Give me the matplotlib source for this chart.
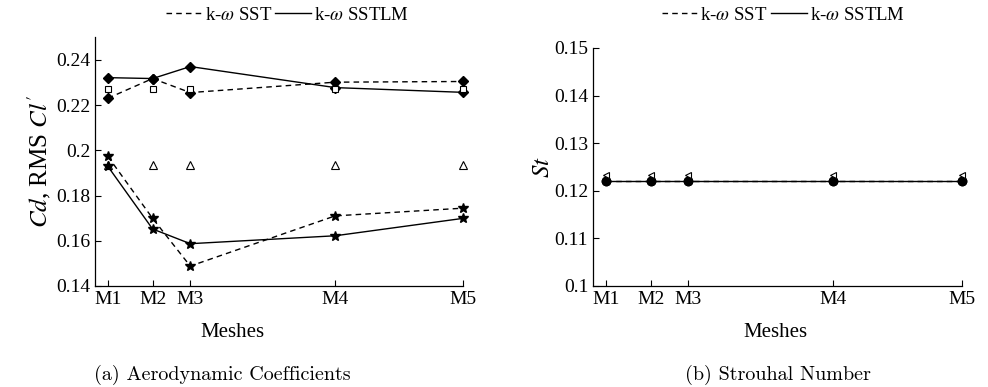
import matplotlib
matplotlib.use('Agg')
import matplotlib.pyplot as plt
from matplotlib.ticker import FuncFormatter
from matplotlib.lines import Line2D

plt.rcParams['font.family'] = ['Liberation Serif', 'DejaVu Serif']
plt.rcParams['mathtext.fontset'] = 'stix'

# posiciones de las mallas en el eje x
mallas = ['M1', 'M2', 'M3', 'M4', 'M5']
x_mallas = [1.0, 1.63, 2.16, 4.2, 6.0]

# coeficientes aerodinámicos
cd_sst = [0.2230, 0.2317, 0.2255, 0.2301, 0.2304]
cd_sstlm = [0.2321, 0.2317, 0.2370, 0.2277, 0.2256]
cd_ref = [0.2270, 0.2270, 0.2270, 0.2270, 0.2270]
cl_sst = [0.1973, 0.1699, 0.1488, 0.1710, 0.1744]
cl_sstlm = [0.1929, 0.1652, 0.1587, 0.1622, 0.1699]
cl_ref = [0.1935, 0.1935, 0.1935, 0.1935, 0.1935]

# número de Strouhal
st_sst = [0.1221, 0.1221, 0.1221, 0.1221, 0.1221]
st_sstlm = [0.1221, 0.1221, 0.1221, 0.1221, 0.1221]
st_ref = [0.1234, 0.1234, 0.1234, 0.1234, 0.1234]

fig = plt.figure(figsize=(9.88, 3.87), dpi=100)
ax1 = fig.add_axes([0.0962, 0.261, 0.3725, 0.643])
ax2 = fig.add_axes([0.6002, 0.261, 0.373, 0.615])

dash = (0, (4, 3))
lw = 1.0
kw = dict(clip_on=False)

# (a) Cd y RMS Cl'
ax1.plot(x_mallas, cd_sst, color='k', ls=dash, lw=lw, marker='D', ms=5.5, mfc='k', **kw)
ax1.plot(x_mallas, cd_sstlm, color='k', ls='-', lw=lw, marker='D', ms=5.5, mfc='k', **kw)
ax1.plot(x_mallas, cl_sst, color='k', ls=dash, lw=lw, marker='*', ms=7.5, mfc='k', **kw)
ax1.plot(x_mallas, cl_sstlm, color='k', ls='-', lw=lw, marker='*', ms=7.5, mfc='k', **kw)
ax1.plot(x_mallas, cd_ref, ls='none', marker='s', ms=5, mfc='white', mec='k', mew=0.8, **kw)
ax1.plot(x_mallas, cl_ref, ls='none', marker='^', ms=5.5, mfc='none', mec='k', mew=0.8, **kw)
ax1.set_ylim(0.14, 0.25)
ax1.set_yticks([0.14, 0.16, 0.18, 0.2, 0.22, 0.24])
ax1.set_ylabel("$Cd$, RMS $Cl'$", fontsize=18, labelpad=2)

# (b) Strouhal
ax2.plot(x_mallas, st_sst, color='k', ls=dash, lw=lw, marker='o', ms=6, mfc='k', **kw)
ax2.plot(x_mallas, st_sstlm, color='k', ls='-', lw=lw, marker='o', ms=6, mfc='k', **kw)
ax2.plot(x_mallas, st_ref, ls='none', marker='<', ms=5, mfc='white', mec='k', mew=0.8, **kw)
ax2.set_ylim(0.1, 0.15)
ax2.set_yticks([0.1, 0.11, 0.12, 0.13, 0.14, 0.15])
ax2.set_ylabel('$St$', fontsize=18, labelpad=0)

for ax in (ax1, ax2):
    ax.set_xlim(0.82, 6.0)
    ax.set_xticks(x_mallas)
    ax.set_xticklabels(mallas)
    ax.yaxis.set_major_formatter(FuncFormatter(lambda v, p: '%g' % round(v, 3)))
    ax.spines['top'].set_visible(False)
    ax.spines['right'].set_visible(False)
    ax.spines['left'].set_linewidth(0.9)
    ax.spines['bottom'].set_linewidth(0.9)
    ax.tick_params(direction='in', length=4, width=0.8, labelsize=14)
    ax.patch.set_alpha(0)

# títulos del eje x a la misma altura en ambos paneles
fig.text(0.235, 0.14, 'Meshes', fontsize=15, ha='center', va='center')
fig.text(0.785, 0.14, 'Meshes', fontsize=15, ha='center', va='center')

# leyendas superiores con solo los estilos de línea
h1 = Line2D([], [], color='k', ls=dash, lw=lw)
h2 = Line2D([], [], color='k', ls='-', lw=lw)
for cx in (0.291, 0.793):
    fig.legend([h1, h2], [r'k-$\omega$ SST', r'k-$\omega$ SSTLM'], ncol=2, frameon=False,
               loc='center', bbox_to_anchor=(cx, 0.96), fontsize=13.5,
               handlelength=1.9, handletextpad=0.15, columnspacing=0.2,
               borderaxespad=0)

fig.text(0.225, 0.018, '(a) Aerodynamic Coefficients', family='cmr10', fontsize=14.5, ha='center')
fig.text(0.787, 0.018, '(b) Strouhal Number', family='cmr10', fontsize=14.5, ha='center')

fig.savefig('out.png', dpi=100)
